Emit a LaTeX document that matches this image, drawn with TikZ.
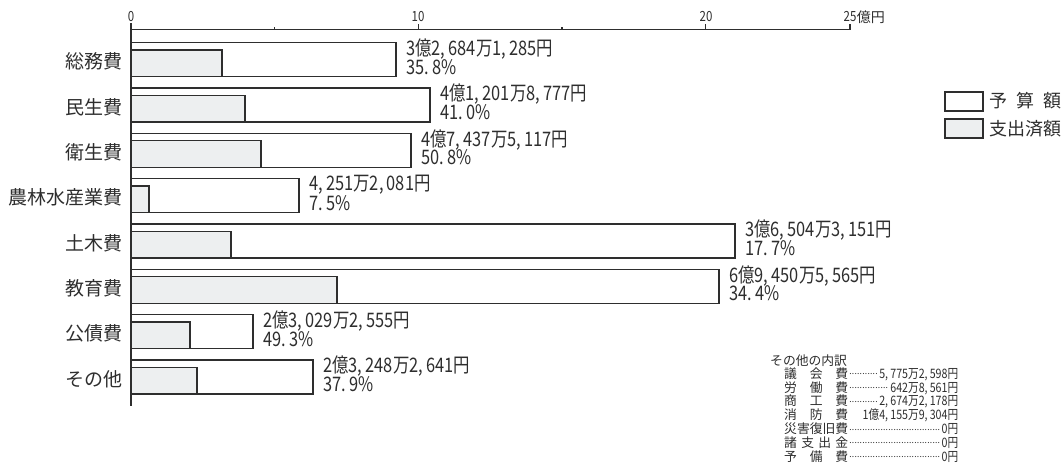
\documentclass[tikz,border=0pt]{standalone}
\usepackage{fontspec}
\setmainfont{Noto Sans CJK JP}
\newfontfamily\nf[FakeStretch=0.82]{Noto Sans CJK JP}
\definecolor{ink}{HTML}{2E2E2E}
\definecolor{spentgray}{HTML}{EDEFF0}
\newcommand\dotsfillx{\leaders\hbox to 2.6pt{\hss\raisebox{0.3em}{\fontsize{8.5}{8.5}\selectfont .}\hss}\hfill}
\tikzset{
  budget/.style={draw=ink, fill=white, line width=1.1pt},
  spent/.style={draw=ink, fill=spentgray, line width=1.1pt},
  axisline/.style={draw=ink, line width=1.2pt},
  cat/.style={anchor=east, inner sep=0pt, text=ink, font=\fontsize{19}{19}\selectfont},
  amt/.style={anchor=west, inner sep=0pt, text=ink, font=\nf\fontsize{20}{20}\selectfont},
  ticklab/.style={inner sep=0pt, text=ink, font=\nf\fontsize{14}{14}\selectfont},
  legtext/.style={anchor=west, inner sep=0pt, text=ink, font=\fontsize{18}{18}\selectfont},
  note/.style={anchor=west, inner sep=0pt, text=ink, font=\fontsize{12.8}{12.8}\selectfont},
}
\begin{document}
\begin{tikzpicture}[x=1pt,y=-1pt]
\useasboundingbox (0,0) rectangle (1064,466);
\fill[white] (0,0) rectangle (1064,466);
% axes
\coordinate (o) at (131,29.5);
\coordinate (xend) at (850,29.5);
\coordinate (ybot) at (131,406);
\draw[axisline] (131,23) -- (ybot);
\draw[axisline] (o) -- (xend) -- ++(0,-6);
\foreach \v in {10,20} \draw[axisline] (131+\v*28.73,29.5) -- ++(0,-6);
\foreach \v in {5,15} \draw[axisline] (131+\v*28.73,29.5) -- ++(0,-3);
\node[ticklab] (t0) at (131,17) {0};
\node[ticklab] (t10) at (418,17) {10};
\node[ticklab] (t20) at (706,17) {20};
\node[ticklab] (t25) at (850,17) {25};
\node[ticklab, anchor=west, font=\fontsize{14}{14}\selectfont] (tu) at (t25.east) {億円};
% bars
\foreach \i/\bx/\gx/\nm/\am/\pc in {
  1/396/222/{総務費}/{3億2,\,684万1,\,285円}/{35.\,8\%},
  2/430/245/{民生費}/{4億1,\,201万8,\,777円}/{41.\,0\%},
  3/411/261/{衛生費}/{4億7,\,437万5,\,117円}/{50.\,8\%},
  4/299/149/{農林水産業費}/{4,\,251万2,\,081円}/{7.\,5\%},
  5/735/231/{土木費}/{3億6,\,504万3,\,151円}/{17.\,7\%},
  6/719/337/{教育費}/{6億9,\,450万5,\,565円}/{34.\,4\%},
  7/253/190/{公債費}/{2億3,\,029万2,\,555円}/{49.\,3\%},
  8/313/197/{その他}/{2億3,\,248万2,\,641円}/{37.\,9\%}}{
  \pgfmathsetmacro\tp{42.7+45.33*(\i-1)}
  \draw[budget] (131,\tp) rectangle (\bx,\tp+34);
  \draw[spent] (131,\tp+7.3) rectangle (\gx,\tp+34);
  \node[cat] (cat\i) at (123,\tp+19) {\nm};
  \node[amt] (amt\i) at (\bx+10,\tp+6.2) {\am};
  \node[amt] (pct\i) at (\bx+10,\tp+24.2) {\pc};
}
% legend
\draw[budget] (945,92) rectangle (983,111);
\draw[spent] (945,119) rectangle (983,138);
\node[legtext] (lg1) at (989,101) {\makebox[4em][s]{予\hfil 算\hfil 額}};
\node[legtext] (lg2) at (989,128.5) {支出済額};
% breakdown
\node[note] (hdr) at (770,361) {その他の内訳};
\foreach \j/\nm/\am/\lead in {
  1/{\makebox[5em][s]{議\hfil 会\hfil 費}}/{5,\,775万2,\,598円}/1,
  2/{\makebox[5em][s]{労\hfil 働\hfil 費}}/{642万8,\,561円}/1,
  3/{\makebox[5em][s]{商\hfil 工\hfil 費}}/{2,\,674万2,\,178円}/1,
  4/{\makebox[5em][s]{消\hfil 防\hfil 費}}/{1億4,\,155万9,\,304円}/0,
  5/{\makebox[5em][s]{災害復旧費}}/{0円}/1,
  6/{\makebox[5em][s]{諸\hfil 支\hfil 出\hfil 金}}/{0円}/1,
  7/{\makebox[5em][s]{予\hfil 備\hfil 費}}/{0円}/1}{
  \node[note] (ln\j) at (784,361+13.6*\j) {\hbox to 174pt{\nm\ifnum\lead=1 \dotsfillx\else\hfill\fi{\nf\fontsize{13}{13}\selectfont\am}}};
}
\end{tikzpicture}
\end{document}
